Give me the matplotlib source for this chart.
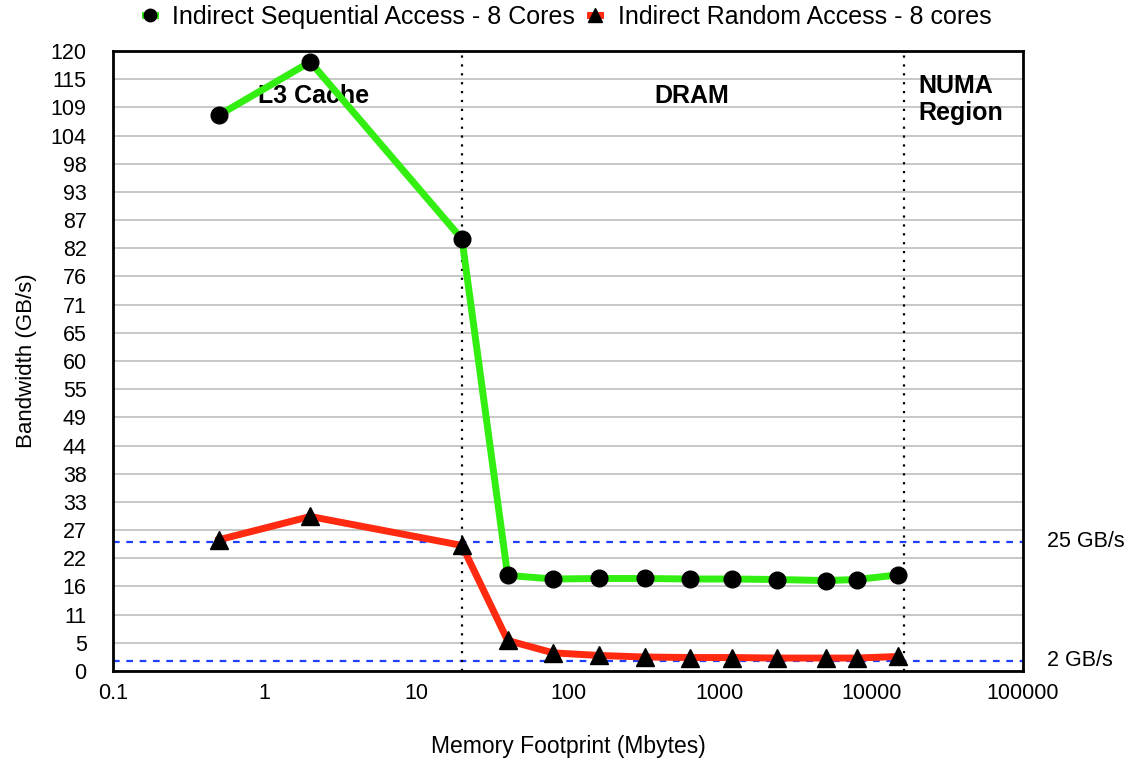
import numpy as np
import matplotlib
matplotlib.use("Agg")
from matplotlib import pyplot as plt

plt.rcParams['font.family'] = ['Liberation Sans', 'DejaVu Sans']

# memory footprint (Mbytes)
footprint = [0.5, 2, 20, 40, 80, 160, 320, 640, 1200, 2400, 5000, 8000, 15000]
# bandwidth (GB/s)
seq_bw = [107.6, 117.9, 83.6, 18.5, 17.8, 17.9, 17.9, 17.8, 17.8, 17.7, 17.5, 17.7, 18.6]
rand_bw = [25.4, 29.9, 24.3, 5.9, 3.5, 3.0, 2.7, 2.6, 2.6, 2.5, 2.5, 2.5, 2.8]

region_edges = [20, 16384]
ref_levels = [25, 2]
ref_labels = ["25 GB/s", "2 GB/s"]

y_ticks = list(np.linspace(0, 120, 23))
y_labels = ["0", "5", "11", "16", "22", "27", "33", "38", "44", "49", "55", "60",
            "65", "71", "76", "82", "87", "93", "98", "104", "109", "115", "120"]
x_ticks = [0.1, 1, 10, 100, 1000, 10000, 100000]
x_labels = ["0.1", "1", "10", "100", "1000", "10000", "100000"]

fig = plt.figure(figsize=(11.31, 7.73), dpi=100)
ax = fig.add_axes([0.0999, 0.132, 0.8046, 0.802])

ax.set_xscale("log")
ax.set_xlim(0.1, 100000)
ax.set_ylim(0, 120)

ax.set_yticks(y_ticks)
ax.set_yticklabels(y_labels)
ax.set_xticks(x_ticks)
ax.set_xticklabels(x_labels)
ax.minorticks_off()
ax.tick_params(length=0, labelsize=15.5)
ax.tick_params(axis="y", pad=19)
ax.tick_params(axis="x", pad=9)
ax.yaxis.grid(True, color="#bdbdbd", lw=1.2)
ax.set_axisbelow(True)
for s in ax.spines.values():
    s.set_linewidth(2)

for v in ref_levels:
    ax.axhline(v, color="#1f3fff", ls=(0, (3, 3)), lw=1.6, zorder=2)
for x in region_edges:
    ax.axvline(x, color="black", ls=(0, (1, 3)), lw=1.6, zorder=2)

ax.plot(footprint, seq_bw, color="#33ee11", lw=5, marker="o", ms=12,
        mfc="black", mec="black", label="Indirect Sequential Access - 8 Cores", zorder=4)
ax.plot(footprint, rand_bw, color="#ff2a10", lw=5, marker="^", ms=13,
        mfc="black", mec="black", label="Indirect Random Access - 8 cores", zorder=4)

ax.text(2.1, 111.2, "L3 Cache", ha="center", va="center", fontsize=18, fontweight="bold")
ax.text(650, 111.2, "DRAM", ha="center", va="center", fontsize=18, fontweight="bold")
ax.text(20300, 110.6, "NUMA\nRegion", ha="left", va="center", fontsize=18,
        fontweight="bold", linespacing=1.2)

for v, lab in zip(ref_levels, ref_labels):
    ax.annotate(lab, xy=(1.0, v), xycoords=("axes fraction", "data"),
                xytext=(17, 0), textcoords="offset points", va="center",
                fontsize=15.5)

ax.set_ylabel("Bandwidth (GB/s)", fontsize=16, labelpad=10)
ax.set_xlabel("Memory Footprint (Mbytes)", fontsize=16.5, labelpad=22)

ax.legend(loc="lower center", bbox_to_anchor=(0.5, 1.0), ncol=2, frameon=False,
          fontsize=18, handlelength=0.4, handletextpad=0.7, columnspacing=0.6,
          markerscale=0.75)

fig.savefig("out.png", dpi=100)
